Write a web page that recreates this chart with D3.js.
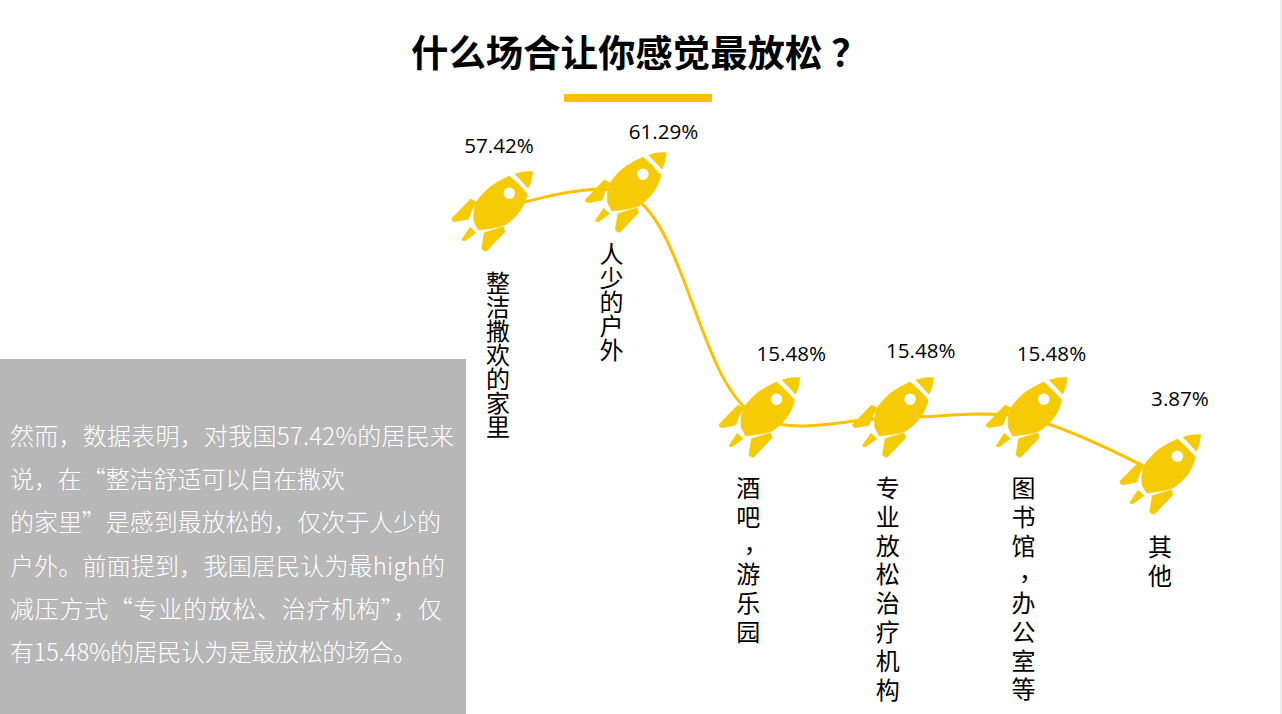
<!DOCTYPE html>
<html>
<head>
<meta charset="utf-8">
<script src="https://cdnjs.cloudflare.com/ajax/libs/d3/7.8.5/d3.min.js"></script>
<style>
  html, body { margin: 0; padding: 0; background: #fff; overflow: hidden; }
  svg { display: block; }
  text { font-family: "Noto Sans CJK SC", "Noto Sans", sans-serif; }
</style>
</head>
<body>
<div id="chart"></div>
<script>
const categories = ['整洁撒欢的家里', '人少的户外', '酒吧，游乐园', '专业放松治疗机构', '图书馆，办公室等', '其他']
const values = [57.42, 61.29, 15.48, 15.48, 15.48, 3.87]
const valueLabels = ['57.42%', '61.29%', '15.48%', '15.48%', '15.48%', '3.87%']
const titleText = '什么场合让你感觉最放松'
const noteLines = [
  '然而，数据表明，对我国57.42%的居民来',
  '说，在“整洁舒适可以自在撒欢',
  '的家里”是感到最放松的，仅次于人少的',
  '户外。前面提到，我国居民认为最high的',
  '减压方式“专业的放松、治疗机构”，仅',
  '有15.48%的居民认为是最放松的场合。',
]

const width = 1282
const height = 714

// label placement around each rocket, in px from the rocket centre
const valueNudge = [[7, -59], [38, -54], [32, -57], [28, -60], [25, -57], [20, -69]]
const nameNudge = [[6, 59], [-14, 49], [-11, 58], [-5, 58], [-3, 58], [0, 60]]
const nameStep = [24, 24, 28.8, 28.8, 28.8, 28.8]
const noteWidths = [444, 335, 431, 435, 432, 407]

const x = d3.scalePoint().domain(categories).range([492, 1160])
const y = d3.scaleLinear().domain([0, 61.29]).range([494, 193])

const rocket = {
  body: 'M17.3,-36 Q27,-28 35.3,-18 C33,-5 24,6 13,13 C5,16 -4,17 -13.7,18 L-18,9.7 C-19,-2 -17,-11 -10,-17 C-3,-26 7,-31 17.3,-36 Z',
  nose: 'M23,-38 Q32,-41 40.7,-40.3 Q40,-31 36.3,-23.7 Z',
  finLeft: 'M-21.3,-13 L-15.3,-10 Q-21,-2 -23.7,7.3 L-37,9.7 Q-41,9 -40,6.3 Z',
  finBottom: 'M11.3,14.7 L13,19.7 L-5.3,39 Q-9,40 -10.3,36.3 L-7.7,20.7 Z',
  finSmall: 'M-22,15.3 L-16,20.7 L-27,28.7 Q-31,29 -30,27.3 Z',
}

const svg = d3.select('#chart').append('svg').attr('width', width).attr('height', height)

svg.append('rect').attr('width', width).attr('height', height).attr('fill', '#fff')

// thin slide edge on the right
svg.append('rect')
  .attr('x', 1280)
  .attr('y', 0)
  .attr('width', 2)
  .attr('height', height)
  .attr('fill', '#ececec')

const title = svg.append('text')
  .attr('x', 411)
  .attr('y', 67)
  .attr('font-size', 37.4)
  .attr('font-weight', 700)
  .attr('fill', '#000')
  .text(titleText)

title.append('tspan').attr('dx', 9).text('？')

svg.append('rect')
  .attr('x', 564)
  .attr('y', 94)
  .attr('width', 148)
  .attr('height', 8)
  .attr('fill', '#ffc000')

// grey note panel
svg.append('rect')
  .attr('x', 0)
  .attr('y', 359)
  .attr('width', 466)
  .attr('height', 355)
  .attr('fill', '#b7b7b7')

svg.selectAll('.note')
  .data(noteLines)
  .enter()
  .append('text')
  .attr('class', 'note')
  .attr('x', 10)
  .attr('y', (d, i) => 445 + i * 43.2)
  .attr('font-size', 24)
  .attr('font-weight', 300)
  .attr('fill', '#fff')
  .attr('textLength', (d, i) => noteWidths[i])
  .attr('lengthAdjust', 'spacing')
  .text(d => d)

const line = d3.line()
  .x((d, i) => x(categories[i]))
  .y(d => y(d))
  .curve(d3.curveCatmullRom.alpha(0.7))

svg.append('path')
  .attr('d', line(values))
  .attr('fill', 'none')
  .attr('stroke', '#ffc000')
  .attr('stroke-width', 3)

const rockets = svg.selectAll('.rocket')
  .data(values)
  .enter()
  .append('g')
  .attr('class', 'rocket')
  .attr('transform', (d, i) => `translate(${x(categories[i])},${y(d)})`)

Object.values(rocket).forEach(d => {
  rockets.append('path')
    .attr('d', d)
    .attr('fill', '#f5cb06')
    .attr('stroke', '#f5cb06')
    .attr('stroke-width', 0.6)
    .attr('stroke-linejoin', 'round')
})

rockets.append('circle')
  .attr('cx', 17.3)
  .attr('cy', -18.7)
  .attr('r', 5.7)
  .attr('fill', '#fff')

svg.selectAll('.value')
  .data(values)
  .enter()
  .append('text')
  .attr('class', 'value')
  .attr('x', (d, i) => x(categories[i]) + valueNudge[i][0])
  .attr('y', (d, i) => y(d) + valueNudge[i][1])
  .attr('text-anchor', 'middle')
  .style('font-family', '"Open Sans", sans-serif')
  .attr('font-size', 20.6)
  .attr('fill', '#000')
  .text((d, i) => valueLabels[i])

// category names run top to bottom as vertical text, the comma sits lower than its vertical form
const names = svg.selectAll('.name')
  .data(categories)
  .enter()
  .append('text')
  .attr('class', 'name')
  .attr('x', (d, i) => x(d) + nameNudge[i][0])
  .attr('y', (d, i) => y(values[i]) + nameNudge[i][1])
  .attr('font-size', 24)
  .attr('fill', '#000')
  .style('writing-mode', 'vertical-rl')
  .style('text-orientation', 'upright')
  .style('letter-spacing', (d, i) => `${nameStep[i] - 24}px`)

names.each(function (d) {
  const chunks = d.split(/(，)/)
  d3.select(this).selectAll('tspan')
    .data(chunks)
    .enter()
    .append('tspan')
    .attr('dx', (c, j) => (c === '，' ? -5 : j > 0 ? 5 : null))
    .attr('dy', (c, j) => (c === '，' ? 13 : j > 0 ? -13 : null))
    .text(c => c)
})
</script>
</body>
</html>
